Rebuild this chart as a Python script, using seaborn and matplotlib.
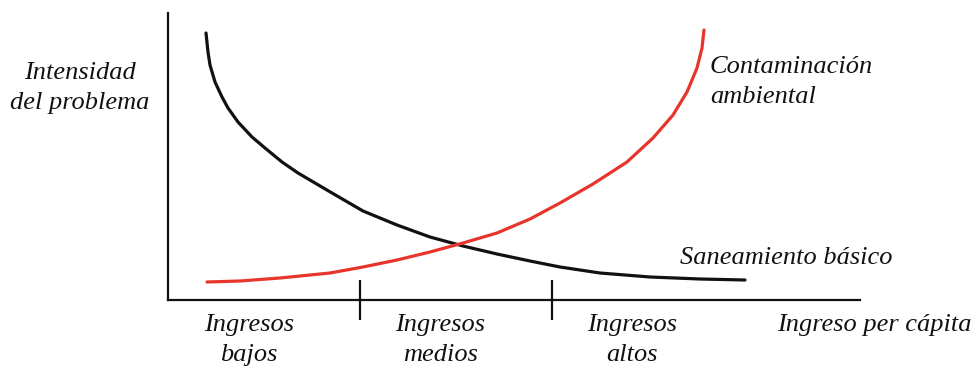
import matplotlib
matplotlib.use("Agg")
import matplotlib.pyplot as plt
import seaborn as sns
import pandas as pd

# Data (x = income axis units, y = problem intensity units)
saneamiento_x = [38, 40, 42, 47, 54, 60, 70, 84, 97, 114, 130, 147, 164, 195, 229, 262,
                 295, 329, 362, 392, 432, 482, 532, 577]
saneamiento_y = [267, 248, 235, 218, 203, 192, 178, 163, 152, 138, 127, 117, 107, 89, 75, 63,
                 54, 46, 39, 33, 27, 23, 21, 20]
contaminacion_x = [39, 72, 112, 162, 195, 229, 262, 295, 329, 362, 392, 425, 459, 485, 505,
                   519, 529, 534, 536]
contaminacion_y = [18, 19, 22, 27, 33, 40, 48, 57, 67, 81, 97, 116, 138, 162, 185,
                   208, 232, 252, 270]
income_ticks = [192, 384]
income_labels = ["Ingresos\nbajos", "Ingresos\nmedios", "Ingresos\naltos"]
income_label_x = [81, 272, 464]

sns.set_theme(style="white")
plt.rcParams['font.family'] = ['Liberation Serif', 'DejaVu Serif']

W, H = 978, 366
fig = plt.figure(figsize=(W / 100, H / 100), dpi=100)
ax = fig.add_axes([168 / W, (H - 300) / H, 692 / W, 287 / H])

df_s = pd.DataFrame({"x": saneamiento_x, "y": saneamiento_y})
df_c = pd.DataFrame({"x": contaminacion_x, "y": contaminacion_y})
sns.lineplot(data=df_s, x="x", y="y", ax=ax, color="#111111", linewidth=2.3, sort=False)
sns.lineplot(data=df_c, x="x", y="y", ax=ax, color="#e8352b", linewidth=2.3, sort=False)
for ln in ax.lines:
    ln.set_solid_joinstyle("round")
    ln.set_solid_capstyle("round")

ax.set_xlim(0, 692)
ax.set_ylim(0, 287)
ax.set_xlabel("")
ax.set_ylabel("")
for s in ["top", "right"]:
    ax.spines[s].set_visible(False)
for s in ["left", "bottom"]:
    ax.spines[s].set_color("#111111")
    ax.spines[s].set_linewidth(1.6)
ax.set_yticks([])
ax.set_xticks(income_ticks)
ax.set_xticklabels([])
ax.tick_params(axis="x", direction="inout", length=29, width=1.6, color="#111111", bottom=True)

txt = dict(fontsize=19, style="italic", color="#111111", linespacing=1.45)

def px(x, y):
    return x / W, 1 - y / H

for lab, lx in zip(income_labels, income_label_x):
    fig.text(*px(lx + 168, 340), lab, ha="center", va="center", **txt)

fig.text(*px(777, 325), "Ingreso per cápita", ha="left", va="center", **txt)
fig.text(*px(80, 88), "Intensidad\ndel problema", ha="center", va="center", **txt)
fig.text(*px(710, 82), "Contaminación\nambiental", ha="left", va="center", **txt)
fig.text(*px(680, 258), "Saneamiento básico", ha="left", va="center", **txt)

fig.savefig("out.png", dpi=100)
